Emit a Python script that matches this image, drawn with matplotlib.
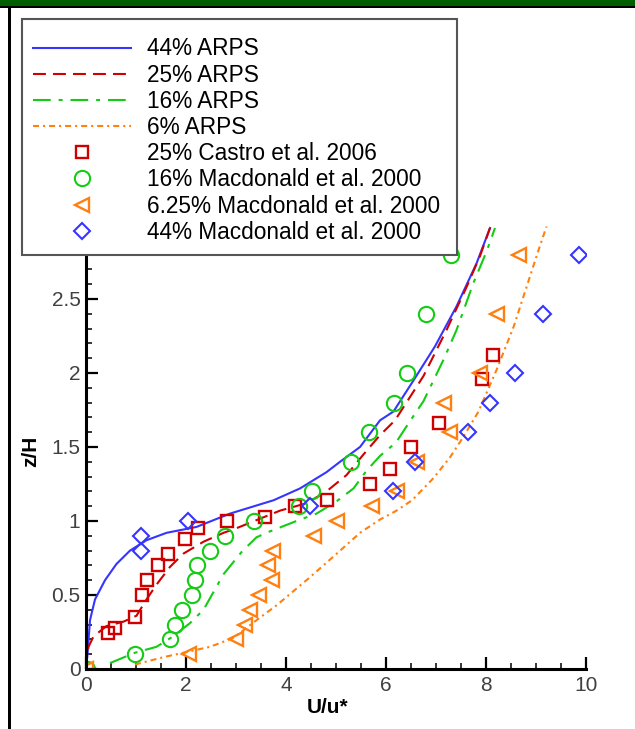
import matplotlib
matplotlib.use("Agg")
import matplotlib.pyplot as plt
from matplotlib.patches import Rectangle
from matplotlib.ticker import MultipleLocator

plt.rcParams['font.family'] = ['Liberation Sans', 'DejaVu Sans']

# ~~~~~~~~ data ~~~~~~~~
# ARPS profiles
u_44 = [0.0, 0.03, 0.08, 0.18, 0.38, 0.61, 0.88, 1.21, 1.61, 2.21, 2.88, 3.75, 4.28,
        4.81, 5.08, 5.48, 5.88, 6.15, 6.55, 6.98, 7.41, 7.81, 8.08]
z_44 = [0.0, 0.10, 0.33, 0.47, 0.60, 0.71, 0.80, 0.87, 0.92, 0.96, 1.05, 1.14, 1.22,
        1.33, 1.40, 1.50, 1.68, 1.74, 1.95, 2.18, 2.45, 2.74, 2.98]

u_25 = [0.0, 0.02, 0.05, 0.15, 0.41, 0.75, 1.01, 1.21, 1.41, 1.68, 1.95, 2.35, 2.75,
        3.0, 3.88, 4.41, 4.81, 5.21, 5.55, 5.88, 6.18, 6.75, 7.21, 7.61, 7.88, 8.08]
z_25 = [0.0, 0.08, 0.15, 0.22, 0.29, 0.32, 0.36, 0.47, 0.57, 0.69, 0.78, 0.86, 0.92,
        0.95, 1.07, 1.12, 1.20, 1.31, 1.45, 1.58, 1.68, 1.98, 2.29, 2.58, 2.79, 2.98]

u_16 = [0.48, 0.98, 1.41, 1.74, 2.08, 2.35, 2.55, 2.75, 3.11, 3.41, 3.68, 4.21, 4.61,
        5.0, 5.35, 5.61, 5.88, 6.2, 6.45, 6.75, 7.15, 7.41, 7.75, 8.01, 8.18]
z_16 = [0.04, 0.11, 0.15, 0.22, 0.31, 0.40, 0.52, 0.64, 0.79, 0.89, 0.93, 1.0, 1.05,
        1.13, 1.22, 1.34, 1.44, 1.53, 1.66, 1.81, 2.09, 2.29, 2.61, 2.82, 2.98]

u_6 = [0.98, 1.55, 2.48, 2.95, 3.41, 3.81, 4.41, 4.95, 5.48, 5.88, 6.21, 6.52, 6.95,
       7.28, 7.55, 7.85, 8.21, 8.55, 8.81, 9.05, 9.21]
z_6 = [0.03, 0.08, 0.15, 0.21, 0.33, 0.43, 0.60, 0.76, 0.92, 1.01, 1.07, 1.14, 1.29,
       1.43, 1.57, 1.74, 2.02, 2.31, 2.58, 2.83, 2.99]

# experiments
u_castro = [0.43, 0.57, 0.97, 1.11, 1.21, 1.43, 1.63, 1.97, 2.23, 2.81, 3.57, 4.18,
            4.81, 5.67, 6.07, 6.49, 7.06, 7.91, 8.14]
z_castro = [0.24, 0.28, 0.35, 0.50, 0.60, 0.70, 0.78, 0.88, 0.95, 1.00, 1.03, 1.10,
            1.14, 1.25, 1.35, 1.50, 1.66, 1.96, 2.12]

z_mac = [0.0, 0.1, 0.2, 0.3, 0.4, 0.5, 0.6, 0.7, 0.8, 0.9, 1.0, 1.1, 1.2,
         1.4, 1.6, 1.8, 2.0, 2.4, 2.8]
u_mac16 = [0.01, 0.97, 1.68, 1.78, 1.91, 2.11, 2.18, 2.21, 2.48, 2.78, 3.36, 4.25, 4.51,
           5.29, 5.65, 6.15, 6.41, 6.79, 7.29]
u_mac6 = [0.0, 2.05, 3.0, 3.18, 3.28, 3.45, 3.71, 3.63, 3.73, 4.55, 5.01, 5.71, 6.22,
          6.61, 7.28, 7.15, 7.88, 8.21, 8.65]

z_mac44 = [0.8, 0.9, 1.0, 1.1, 1.2, 1.4, 1.6, 1.8, 2.0, 2.4, 2.8]
u_mac44 = [1.09, 1.09, 2.03, 4.48, 6.14, 6.58, 7.63, 8.08, 8.58, 9.13, 9.85]

labels = ['44% ARPS', '25% ARPS', '16% ARPS', '6% ARPS',
          '25% Castro et al. 2006', '16% Macdonald et al. 2000',
          '6.25% Macdonald et al. 2000', '44% Macdonald et al. 2000']

blue = '#3535ff'
red = '#d00000'
green = '#14cc14'
orange = '#ff8010'

# ~~~~~~~~ figure ~~~~~~~~
fig = plt.figure(figsize=(6.35, 7.29), dpi=100)
W, H = 635.0, 729.0

# window decoration: green bar on top, black frame line on the left
fig.add_artist(Rectangle((0, 1 - 6 / H), 1, 6 / H, transform=fig.transFigure,
                         facecolor='#006000', edgecolor='none'))
fig.add_artist(Rectangle((0, 1 - 8 / H), 1, 2 / H, transform=fig.transFigure,
                         facecolor='black', edgecolor='none'))
fig.add_artist(Rectangle((8 / W, 0), 3 / W, 1 - 8 / H, transform=fig.transFigure,
                         facecolor='black', edgecolor='none'))

ax = fig.add_axes([86 / W, 60 / H, 500 / W, 444 / H])
ax.set_xlim(0, 10)
ax.set_ylim(0, 3)

h1, = ax.plot(u_44, z_44, color=blue, lw=1.5)
h2, = ax.plot(u_25, z_25, color=red, lw=1.5, dashes=(6.2, 3.4))
h3, = ax.plot(u_16, z_16, color=green, lw=1.5, dashes=(8.5, 3.8, 1.9, 3.8))
h4, = ax.plot(u_6, z_6, color=orange, lw=1.5, dashes=(2.9, 1.9, 1.0, 1.9))

h5, = ax.plot(u_castro, z_castro, 's', ms=8.5, mfc='none', mec=red, mew=1.7, ls='none')
h6, = ax.plot(u_mac16, z_mac, 'o', ms=11, mfc='none', mec=green, mew=1.5, ls='none')
h7, = ax.plot(u_mac6, z_mac, '<', ms=10.5, mfc='none', mec=orange, mew=1.7, ls='none')
h8, = ax.plot(u_mac44, z_mac44, 'D', ms=8.3, mfc='none', mec=blue, mew=1.5, ls='none')

for s in ['top', 'right']:
    ax.spines[s].set_visible(False)
for s in ['left', 'bottom']:
    ax.spines[s].set_linewidth(2.2)

ax.xaxis.set_major_locator(MultipleLocator(2))
ax.xaxis.set_minor_locator(MultipleLocator(0.5))
ax.yaxis.set_major_locator(MultipleLocator(0.5))
ax.yaxis.set_minor_locator(MultipleLocator(0.1))
ax.tick_params(which='major', direction='in', length=8.5, width=1.6,
               labelsize=15, labelcolor='#404040')
ax.tick_params(which='minor', direction='in', length=4.3, width=1.1)
ax.tick_params(axis='x', which='major', pad=5)
ax.tick_params(axis='y', which='major', pad=4)
ax.set_yticks([0, 0.5, 1, 1.5, 2, 2.5])
ax.set_yticklabels(['0', '0.5', '1', '1.5', '2', '2.5'])

ax.set_xlabel('U/u*', fontsize=15, fontweight='bold')
ax.xaxis.set_label_coords(242 / 500, -29 / 444)
ax.set_ylabel('z/H', fontsize=15, fontweight='bold')
ax.yaxis.set_label_coords(-46 / 500, 0.49)

# legend box spans x 22..457 px, top at 19 px
leg = fig.legend([h1, h2, h3, h4, h5, h6, h7, h8], labels,
                 loc='upper left', mode='expand',
                 bbox_to_anchor=(22 / W, 0.5, 435 / W, 0.5 - 19 / H),
                 borderaxespad=0, fontsize=16.3, handlelength=4.3,
                 handletextpad=0.7, labelspacing=0.14, borderpad=0.5,
                 title=' ', title_fontsize=2,
                 numpoints=1, fancybox=False, framealpha=1, edgecolor='#555555')
leg.get_frame().set_linewidth(1.5)

fig.savefig('out.png', dpi=100)
